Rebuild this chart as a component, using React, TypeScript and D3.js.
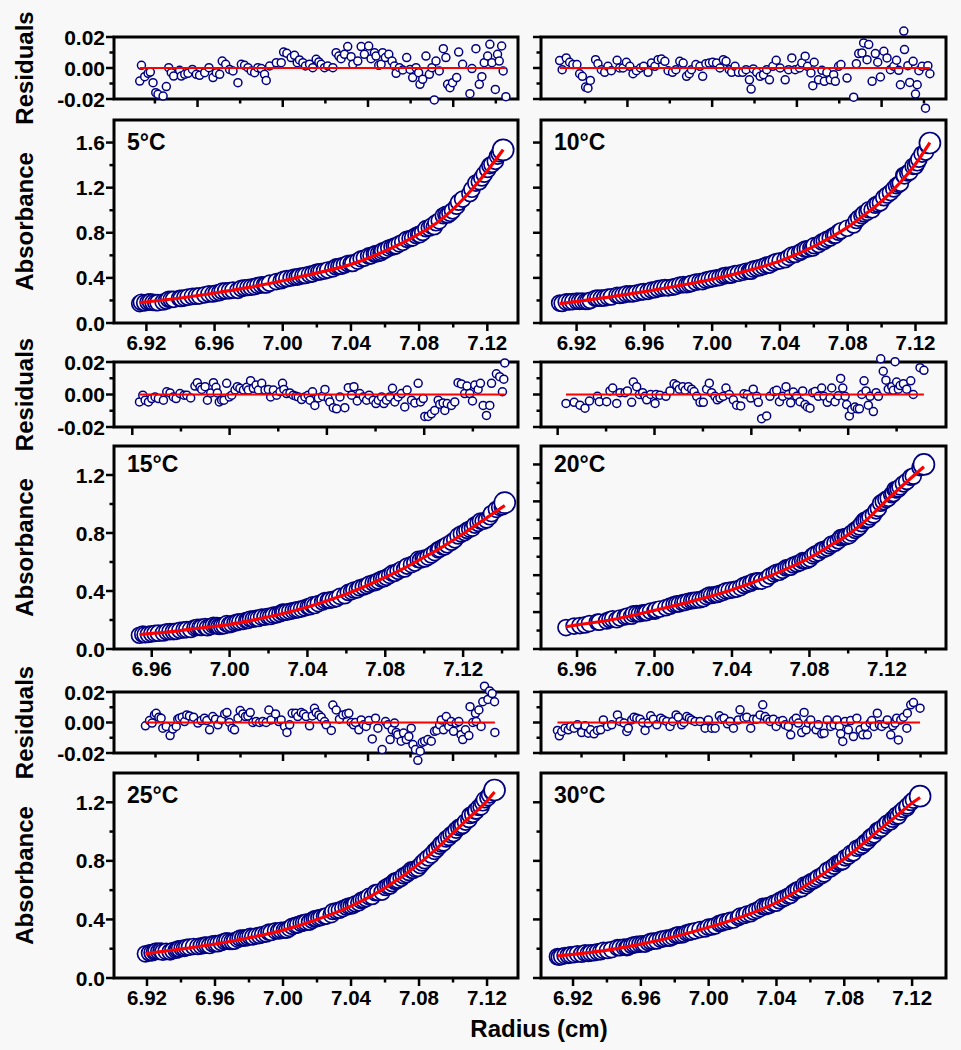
import React from 'react';
import * as d3 from 'd3';

type Pt = [number, number];

// ---------- residuals [radius (cm), residual] ----------
const resid5: Pt[] = [
[6.9161,-0.0084],[6.9171,0.0017],[6.919,-0.0056],[6.921,-0.0034],[6.9223,-0.0026],[6.9239,-0.0095],[6.9255,-0.0159],[6.9268,-0.017],[6.9298,-0.0181],[6.9317,-0.012],
[6.9331,0.0002],[6.9346,-0.003],[6.936,-0.0052],[6.9395,-0.0015],[6.9405,-0.0052],[6.9425,-0.0041],[6.9444,-0.0034],[6.947,-0.0009],[6.9493,-0.0041],[6.9512,-0.0047],
[6.9542,-0.003],[6.9567,0.0002],[6.9591,-0.0062],[6.961,-0.003],[6.963,-0.0041],[6.9645,0.0045],[6.9665,0.0024],[6.9688,-0.0009],[6.9708,-0.0019],[6.9737,-0.0095],
[6.9757,0.0024],[6.9776,0.0017],[6.9796,0.0002],[6.9815,-0.0019],[6.9835,-0.003],[6.9854,0.0002],[6.9874,-0.0004],[6.9893,-0.0041],[6.9903,-0.008],[6.9923,0.0013],
[6.9962,0.0034],[6.9991,0.0034],[7.0005,0.0103],[7.0024,0.0095],[7.0049,0.0067],[7.0069,0.0082],[7.0085,0.0034],[7.0098,0.0052],[7.0118,0.0034],[7.0133,0.0013],
[7.0157,0.0024],[7.0176,0.0002],[7.0196,0.0056],[7.0212,0.0039],[7.0225,0.0024],[7.0245,0.0002],[7.0264,0.0013],[7.0294,0.0002],[7.0313,0.0099],[7.0329,0.0077],
[7.0342,0.006],[7.0362,0.0088],[7.0381,0.0138],[7.0401,0.0073],[7.0411,0.0024],[7.044,0.0045],[7.046,0.0138],[7.0479,0.0088],[7.0504,0.0142],[7.0518,0.006],
[7.0538,0.0099],[7.0547,0.0077],[7.0563,0.0017],[7.0577,0.0024],[7.0586,0.0099],[7.0602,0.0067],[7.0622,0.0088],[7.0641,0.0045],[7.0655,0.0013],[7.0665,-0.0034],
[7.0684,0.0002],[7.0704,-0.0013],[7.0727,0.0067],[7.0747,-0.0009],[7.0762,-0.0062],[7.0782,0.0002],[7.0797,-0.003],[7.0805,-0.0105],[7.0821,-0.0073],[7.084,0.0077],
[7.086,-0.0041],[7.0875,0.0002],[7.0889,-0.0206],[7.0899,0.0045],[7.0918,-0.0019],[7.0942,0.0125],[7.0957,0.0067],[7.0967,-0.0105],[7.0981,-0.0127],[7.0996,-0.0095],
[7.102,-0.0062],[7.1032,0.0103],[7.1055,0.0024],[7.1098,-0.0166],[7.111,-0.0004],[7.1133,0.0125],[7.1153,-0.0105],[7.1168,-0.0056],[7.1182,0.0034],[7.1202,0.0077],
[7.1215,0.0153],[7.1227,0.0034],[7.1247,-0.0138],[7.126,0.0088],[7.127,0.0045],[7.1284,0.0142],[7.1293,-0.0019],[7.1309,-0.0185]];

const resid10: Pt[] = [
[6.910,0.0048],[6.9115,-0.0011],[6.9139,0.0065],[6.9159,0.0037],[6.9178,0.0022],[6.9202,0.0022],[6.9218,-0.0037],[6.9234,-0.0054],[6.9253,-0.0123],[6.9267,-0.013],
[6.9281,-0.008],[6.9312,0.0054],[6.9326,0.0028],[6.9346,-0.0011],[6.9366,-0.0028],[6.9385,0.0011],[6.9405,-0.0017],[6.9439,0.005],[6.9454,0],[6.9474,0],
[6.9494,0.0037],[6.9514,0.0011],[6.9533,-0.0037],[6.9553,-0.0017],[6.9577,0],[6.9596,0.0011],[6.9622,-0.0028],[6.9642,0.0032],[6.9662,0.0011],[6.9681,0.0054],
[6.9701,0.0058],[6.9721,0.0043],[6.974,-0.0017],[6.9766,-0.0028],[6.9786,-0.0011],[6.9809,0.0043],[6.9829,0.0032],[6.9849,-0.0054],[6.9865,-0.0037],[6.9878,-0.0011],
[6.9904,0.0022],[6.9928,0.0011],[6.9944,-0.0054],[6.9963,0.0028],[6.9983,0.0032],[7.0003,0.0037],[7.0026,0.0032],[7.0046,0],[7.0066,0.0054],[7.0082,0.0043],
[7.0101,-0.0011],[7.0115,-0.0028],[7.0135,0.0011],[7.0155,-0.0028],[7.018,-0.0028],[7.02,-0.0011],[7.022,-0.0076],[7.023,-0.0136],[7.0243,-0.0006],[7.0263,-0.0028],
[7.0283,-0.0054],[7.0303,-0.0043],[7.0322,-0.0011],[7.0338,-0.0076],[7.0358,0.0011],[7.0378,0.005],[7.0401,0],[7.0431,-0.0076],[7.0451,-0.0011],[7.047,0.0065],
[7.049,-0.0011],[7.0516,0],[7.0529,0.0032],[7.0549,0.0076],[7.0563,0.0011],[7.0583,-0.0032],[7.0594,-0.0114],[7.0602,0.0037],[7.0628,-0.0076],[7.0648,-0.0015],
[7.0662,-0.0086],[7.0677,-0.0028],[7.0697,-0.0076],[7.0717,-0.0043],[7.0727,-0.0086],[7.0746,0.0011],[7.076,0.0022],[7.0796,-0.0065],[7.0835,-0.0188],[7.0851,0.0028],
[7.0865,0.0093],[7.0884,0.0097],[7.0894,0.0162],[7.0914,0.0054],[7.0924,0.0151],[7.0944,-0.0086],[7.0963,0.0093],[7.0977,0.0037],[7.0993,-0.0058],[7.1013,0.0108],
[7.1032,0.0065],[7.1052,-0.0011],[7.1072,0.0011],[7.1088,0.005],[7.1101,-0.0015],[7.1111,-0.0108],[7.1131,0.0238],[7.1135,0.0119],[7.1155,0.0015],[7.1166,-0.0093],
[7.1186,0.0043],[7.12,-0.0168],[7.121,-0.0108],[7.122,-0.0017],[7.1239,0.0011],[7.1259,-0.0259],[7.1273,0.0015],[7.1285,-0.0037]];

const resid15: Pt[] = [
[6.9537,-0.0046],[6.9554,-0.0004],[6.9566,-0.0035],[6.9583,-0.0046],[6.96,-0.0025],[6.9617,-0.0015],[6.9634,-0.0025],[6.966,-0.0035],[6.9677,0.0017],[6.9694,0.001],
[6.9711,-0.0015],[6.9725,-0.0025],[6.9745,0.0006],[6.9766,-0.0004],[6.978,-0.0004],[6.98,-0.0021],[6.9822,0.0052],[6.9834,0.0073],[6.9848,0.0044],[6.9857,0.0031],
[6.9874,0.0048],[6.9886,-0.0035],[6.9903,0.001],[6.9917,0.0073],[6.993,0.0044],[6.9937,0.001],[6.9947,-0.0046],[6.9959,-0.0035],[6.9971,-0.0035],[6.9985,0.0069],
[6.9999,-0.0015],[7.0011,-0.0004],[7.0028,0.0027],[7.004,0.0048],[7.0053,0.0038],[7.0071,0.0027],[7.0088,0.0044],[7.0096,0.0027],[7.0108,0.0085],[7.0122,0.0038],
[7.0136,0.0058],[7.0148,0.0027],[7.0165,0.0069],[7.0182,0.0027],[7.0199,0.0031],[7.0211,-0.0015],[7.0225,0.0027],[7.0242,-0.0004],[7.0259,0.0017],[7.0272,0.0069],
[7.0279,0.0031],[7.0293,0.0006],[7.031,0.001],[7.0327,-0.0004],[7.0341,-0.001],[7.0353,-0.0015],[7.037,-0.0031],[7.0387,-0.0015],[7.0404,-0.0004],[7.0413,-0.0035],
[7.0426,0.0017],[7.0438,-0.0067],[7.0456,-0.0021],[7.0478,-0.001],[7.049,0.0031],[7.0507,-0.0025],[7.0515,-0.0046],[7.0533,-0.0081],[7.055,-0.0088],[7.0567,-0.0015],
[7.0592,-0.0081],[7.061,0.0042],[7.0627,-0.0004],[7.0639,0.0048],[7.0656,-0.004],[7.0669,0.0006],[7.0687,-0.0015],[7.0704,-0.0035],[7.0717,-0.0004],[7.0738,-0.0035],
[7.0752,-0.0056],[7.0764,-0.0035],[7.0781,-0.0015],[7.0793,-0.0056],[7.0806,-0.0035],[7.0823,-0.0015],[7.0837,0.0038],[7.0849,-0.0046],[7.0866,-0.0015],[7.0883,0.0006],
[7.09,-0.0077],[7.0912,0.0027],[7.0935,-0.0035],[7.0952,-0.0052],[7.0969,0.0069],[7.0981,-0.0046],[7.0995,-0.0025],[7.1003,-0.0135],[7.102,-0.0135],[7.1037,-0.0119],
[7.1054,-0.0098],[7.1072,-0.0035],[7.108,-0.006],[7.1097,-0.0052],[7.1106,-0.0098],[7.1118,-0.0056],[7.114,-0.0067],[7.1157,-0.0046],[7.1174,0.0073],[7.1191,0.0065],
[7.1208,0.0006],[7.122,0.0052],[7.1234,0.0006],[7.1248,-0.004],[7.126,0.0058],[7.1277,0.0031],[7.1289,0.0069],[7.1303,-0.0067],[7.132,-0.0129],[7.1337,-0.0067],
[7.1346,0.0069],[7.1371,0.0127],[7.1388,0.011],[7.1402,0.0017],[7.1409,0.0094],[7.1414,0.0194]];

const resid20: Pt[] = [
[6.9543,-0.0055],[6.9585,-0.0048],[6.9615,-0.0066],[6.9641,-0.0084],[6.9664,-0.004],[6.9705,-0.0011],[6.9715,-0.0044],[6.9753,-0.0044],[6.977,0.0022],[6.9784,0.004],
[6.9805,-0.0055],[6.9822,0.0011],[6.9848,0.0011],[6.986,0.0022],[6.9882,-0.0048],[6.9891,0.0077],[6.9908,0.0048],[6.9922,0],[6.9939,0.0011],[6.9951,-0.0011],
[6.996,-0.0033],[6.998,0],[7.0003,-0.0055],[7.0008,0],[7.0028,-0.0004],[7.0059,-0.0011],[7.008,0.0022],[7.0101,0.0066],[7.0115,0.0055],[7.0128,0.0033],
[7.0146,0.0048],[7.0158,0.0026],[7.0175,0.0048],[7.0192,0.0033],[7.0204,0.0018],[7.0218,-0.0011],[7.0235,-0.0048],[7.0252,-0.0048],[7.0269,0.0033],[7.0283,0.007],
[7.0295,0.0011],[7.0312,-0.0011],[7.0324,-0.0033],[7.0338,-0.0022],[7.0355,-0.0011],[7.0369,0.004],[7.0386,0],[7.0407,-0.0033],[7.0424,-0.0066],[7.0445,-0.007],
[7.0462,0.0004],[7.0479,0],[7.0497,-0.0022],[7.051,0.0033],[7.0528,-0.0011],[7.0536,-0.0048],[7.0553,-0.0149],[7.0579,-0.0132],[7.0596,-0.0011],[7.0617,0.0018],
[7.0631,0.0026],[7.0645,-0.0044],[7.0662,-0.0011],[7.0679,0.0048],[7.0691,0],[7.0703,-0.0051],[7.0717,0.0015],[7.0734,-0.0011],[7.0751,-0.0044],[7.0765,0.0022],
[7.0777,-0.0062],[7.0789,-0.0077],[7.0803,-0.0084],[7.0817,0.0011],[7.0829,0.0018],[7.0846,-0.0011],[7.0863,0.004],[7.0875,-0.0011],[7.0892,-0.0048],[7.0906,-0.0022],
[7.0915,0.004],[7.0932,-0.0044],[7.0949,-0.0007],[7.0961,0.0099],[7.0972,0.004],[7.0984,-0.0011],[7.0992,-0.0062],[7.1006,-0.0132],[7.1018,-0.0092],[7.1035,-0.0077],
[7.1047,-0.0088],[7.1058,-0.0088],[7.107,0],[7.1082,0.0084],[7.1092,0.0022],[7.1104,-0.0066],[7.1113,-0.0011],[7.113,-0.0105],[7.1144,0.0011],[7.1156,-0.0011],
[7.1168,0.022],[7.1181,0.0143],[7.1195,0.0088],[7.1207,0.0033],[7.1225,0.0048],[7.1233,0.0026],[7.1242,0.0202],[7.125,0.0077],[7.1259,0.0033],[7.1268,0.0055],
[7.1285,0.0066],[7.1302,0.0033],[7.1323,0.0084],[7.1336,0],[7.1371,0.0165],[7.1391,0.0149]];

const resid25: Pt[] = [
[6.9191,-0.0022],[6.9215,0.0013],[6.923,-0.0004],[6.9244,0.005],[6.9254,0.006],[6.927,0.0035],[6.9283,0.0028],[6.9293,-0.0037],[6.9313,-0.0026],[6.9336,-0.0086],
[6.9352,-0.0043],[6.9372,-0.0026],[6.9381,0.0022],[6.9391,0.0028],[6.9407,0.0035],[6.9421,0.0006],[6.9434,0.005],[6.945,0.0043],[6.9474,0.0035],[6.9499,-0.0004],
[6.9519,0.0013],[6.9538,0.0028],[6.9552,0.0013],[6.9568,-0.0048],[6.9587,0.0039],[6.9603,0.0022],[6.9617,-0.0015],[6.9637,0.0017],[6.9657,0.0056],[6.967,0.0065],
[6.9685,0],[6.9701,-0.0037],[6.9715,-0.0048],[6.9735,0.0028],[6.9748,0.0078],[6.9764,0.0056],[6.9779,0.0039],[6.9793,0.0043],[6.9807,0.0065],[6.9822,0],
[6.9842,0.0006],[6.9862,0],[6.9881,0.0006],[6.9901,0],[6.9917,0.0082],[6.993,0.0017],[6.9956,0.0056],[6.9975,0.0006],[6.9989,0.0017],[7.0009,-0.0026],
[7.0023,-0.0065],[7.0039,-0.0015],[7.0054,0.006],[7.0074,0.006],[7.0087,0.0039],[7.0107,0.0065],[7.0121,0.0056],[7.0136,0.0039],[7.0156,-0.0022],[7.0172,0.0043],
[7.0185,0.0093],[7.0195,0.0065],[7.0211,0.005],[7.0225,0.0035],[7.0244,0.0006],[7.0254,-0.0015],[7.0284,-0.0052],[7.0293,0.0114],[7.0313,0.0082],[7.0332,0.0022],
[7.0352,0.005],[7.0372,0.0056],[7.0387,0.006],[7.0401,0],[7.0415,-0.0015],[7.0426,0],[7.0446,-0.0048],[7.046,0.0017],[7.0474,-0.0015],[7.0489,-0.0026],
[7.0505,0.0013],[7.0525,-0.0108],[7.0544,0.0028],[7.0558,-0.0037],[7.0583,-0.0177],[7.0603,0.0006],[7.0617,-0.0015],[7.063,-0.0112],[7.0642,-0.0048],[7.0656,-0.0004],
[7.0666,-0.0065],[7.0675,-0.008],[7.0695,-0.0123],[7.0709,-0.0069],[7.0725,-0.0112],[7.074,-0.0091],[7.0754,-0.0037],[7.0764,-0.0145],[7.0779,-0.0177],[7.0793,-0.0248],
[7.0807,-0.0188],[7.0819,-0.013],[7.0833,-0.0123],[7.0852,-0.0112],[7.0872,-0.0123],[7.0891,-0.0058],[7.0905,-0.0052],[7.0921,-0.0015],[7.0931,0.0017],[7.0944,-0.0048],
[7.096,0.0039],[7.0975,-0.0026],[7.0989,0.0006],[7.1003,-0.0058],[7.1018,-0.0004],[7.1034,0.0006],[7.1047,-0.008],[7.1057,-0.0112],[7.1073,-0.0048],[7.1093,-0.0086],
[7.11,0.0104],[7.1116,0],[7.1132,0.006],[7.1136,0.0006],[7.1152,0.0082],[7.1165,-0.0026],[7.1175,0.0136],[7.1185,0.0238],[7.1205,0.0151],[7.1215,0.0207],
[7.123,0.019],[7.1244,0.0136],[7.1246,-0.0065]];

const resid30: Pt[] = [
[6.9108,-0.0052],[6.9119,-0.0087],[6.9133,-0.0059],[6.9153,-0.0037],[6.9172,-0.0048],[6.9186,-0.0026],[6.9206,-0.0037],[6.9226,-0.0015],[6.9251,-0.0066],[6.9271,-0.0022],
[6.929,-0.007],[6.9304,-0.0048],[6.9324,-0.0074],[6.9344,-0.0052],[6.9363,-0.0048],[6.9379,0.0017],[6.9403,-0.0026],[6.9428,-0.0015],[6.9462,0.005],[6.9477,0.0007],
[6.9501,-0.0004],[6.9517,-0.0059],[6.9526,-0.0037],[6.9546,0.0017],[6.956,0.0035],[6.9576,0.0028],[6.9595,0.0022],[6.9611,0],[6.9625,-0.0052],[6.9644,-0.0004],
[6.9658,0.0044],[6.9674,0.0022],[6.9694,-0.0015],[6.9717,0.0028],[6.9733,0.0017],[6.9753,0.0007],[6.9772,-0.0026],[6.9788,0.0007],[6.9808,0.005],[6.9821,0.0035],
[6.9841,-0.0015],[6.9855,0],[6.9871,0.0039],[6.9886,0.0028],[6.99,0.0017],[6.992,0.0007],[6.9949,0.0007],[6.9979,-0.0037],[6.9998,0.0017],[7.0018,-0.0037],
[7.0038,-0.0037],[7.0063,0.0044],[7.0077,0.0022],[7.0091,0.0028],[7.0111,-0.0009],[7.0126,0.0007],[7.0146,-0.0037],[7.0175,0.0017],[7.0185,0.0083],[7.0209,0.0028],
[7.0225,0.0035],[7.0248,-0.0037],[7.0264,0.0022],[7.0284,0.0022],[7.0303,0.005],[7.0319,0.0116],[7.0333,0.0039],[7.0347,0.0022],[7.0362,0.0007],[7.0382,0.0022],
[7.0398,-0.0026],[7.0417,0.0007],[7.0437,0.0013],[7.0451,-0.0015],[7.047,-0.0026],[7.0484,-0.0081],[7.05,0.0013],[7.0516,0.0028],[7.0529,-0.0004],[7.0549,-0.0066],
[7.0563,0.0066],[7.0575,-0.0048],[7.0588,-0.0004],[7.0602,0.0017],[7.0618,-0.0026],[7.0634,-0.0048],[7.0647,-0.0015],[7.0667,-0.0074],[7.0681,-0.007],[7.07,0.0017],
[7.072,-0.0026],[7.074,-0.0015],[7.0756,0.0017],[7.0771,-0.0026],[7.0779,-0.0074],[7.0791,-0.0124],[7.0805,0.0007],[7.0824,-0.0048],[7.0838,0.0013],[7.0854,-0.0092],
[7.0874,0.0028],[7.0893,-0.0048],[7.0909,-0.0081],[7.0923,-0.0026],[7.0936,-0.0081],[7.0952,-0.0004],[7.0962,0.0013],[7.0976,-0.0026],[7.0995,0.0061],[7.1007,-0.0015],
[7.1021,-0.0026],[7.1041,-0.0009],[7.1054,0.0017],[7.1074,-0.0081],[7.1086,-0.0022],[7.11,-0.0004],[7.1109,0.0028],[7.1119,-0.0114],[7.1133,0.0017],[7.1149,0.0035],
[7.1169,-0.0037],[7.1172,0.0061],[7.1192,0.0116],[7.1208,0.0131],[7.1247,0.0094]];

// ---------- absorbance data [radius (cm), absorbance] (drawn in radius order) ----------
const absorb5: Pt[] = [
[6.9161,0.172],[6.919,0.179],[6.9223,0.188],[6.9255,0.181],[6.9298,0.186],[6.9331,0.21],[6.936,0.21],[6.9405,0.218],[6.9444,0.229],[6.9493,0.238],
[6.9542,0.25],[6.9591,0.258],[6.963,0.27],[6.9665,0.284],[6.9708,0.291],[6.9757,0.307],[6.9796,0.315],[6.9835,0.323],[6.9874,0.338],[6.9903,0.338],
[6.9962,0.367],[7.0005,0.387],[7.0049,0.399],[7.0085,0.407],[7.0118,0.419],[7.0157,0.431],[7.0196,0.449],[7.0225,0.456],[7.0264,0.47],[7.0313,0.497],
[7.0342,0.504],[7.0381,0.527],[7.0411,0.528],[7.046,0.569],[7.0504,0.595],[7.0538,0.611],[7.0563,0.618],[7.0586,0.64],[7.0622,0.664],[7.0655,0.681],
[7.0684,0.702],[7.0727,0.742],[7.0762,0.755],[7.0797,0.785],[7.0821,0.803],[7.086,0.843],[7.0889,0.854],[7.0918,0.906],[7.0957,0.963],[7.0981,0.973],
[7.102,1.036],[7.1055,1.099],[7.111,1.186],[7.1153,1.253],[7.1182,1.32],[7.1215,1.396],[7.1247,1.434],[7.127,1.501],[7.1293,1.535],
[6.9171,0.184],[6.921,0.185],[6.9239,0.183],[6.9268,0.181],[6.9317,0.195],[6.9346,0.209],[6.9395,0.219],[6.9425,0.223],[6.947,0.236],[6.9512,0.241],
[6.9567,0.258],[6.961,0.265],[6.9645,0.282],[6.9688,0.287],[6.9737,0.29],[6.9776,0.312],[6.9815,0.318],[6.9854,0.332],[6.9893,0.339],[6.9923,0.353],
[6.9991,0.375],[7.0024,0.393],[7.0069,0.407],[7.0098,0.414],[7.0133,0.422],[7.0176,0.436],[7.0212,0.453],[7.0245,0.461],[7.0294,0.48],[7.0329,0.501],
[7.0362,0.514],[7.0401,0.528],[7.044,0.549],[7.0479,0.576],[7.0518,0.596],[7.0547,0.615],[7.0577,0.626],[7.0602,0.647],[7.0641,0.674],[7.0665,0.684],
[7.0704,0.716],[7.0747,0.749],[7.0782,0.776],[7.0805,0.784],[7.084,0.836],[7.0875,0.861],[7.0899,0.889],[7.0942,0.951],[7.0967,0.958],[7.0996,0.995],
[7.1032,1.071],[7.1098,1.148],[7.1133,1.241],[7.1168,1.286],[7.1202,1.362],[7.1227,1.407],[7.126,1.48],[7.1284,1.533]];

const absorb10: Pt[] = [
[6.910,0.177],[6.9139,0.187],[6.9178,0.19],[6.9218,0.192],[6.9253,0.191],[6.9281,0.2],[6.9326,0.22],[6.9366,0.222],[6.9405,0.231],[6.9454,0.244],
[6.9494,0.258],[6.9533,0.259],[6.9577,0.273],[6.9622,0.281],[6.9662,0.295],[6.9701,0.31],[6.974,0.312],[6.9786,0.325],[6.9829,0.341],[6.9865,0.345],
[6.9904,0.362],[6.9944,0.367],[6.9983,0.386],[7.0026,0.4],[7.0066,0.417],[7.0101,0.423],[7.0135,0.438],[7.018,0.45],[7.022,0.461],[7.0243,0.478],
[7.0283,0.492],[7.0322,0.513],[7.0358,0.532],[7.0401,0.551],[7.0451,0.582],[7.049,0.608],[7.0529,0.637],[7.0563,0.657],[7.0594,0.665],[7.0628,0.696],
[7.0662,0.724],[7.0697,0.754],[7.0727,0.779],[7.076,0.818],[7.0835,0.87],[7.0865,0.93],[7.0894,0.969],[7.0924,1.004],[7.0963,1.045],[7.0993,1.066],
[7.1032,1.135],[7.1072,1.189],[7.1101,1.23],[7.1131,1.31],[7.1155,1.331],[7.1186,1.389],[7.121,1.421],[7.1239,1.498],[7.1273,1.575],[7.1285,1.596],
[6.9115,0.174],[6.9159,0.188],[6.9202,0.194],[6.9234,0.194],[6.9267,0.192],[6.9312,0.219],[6.9346,0.22],[6.9385,0.23],[6.9439,0.246],[6.9474,0.249],
[6.9514,0.259],[6.9553,0.265],[6.9596,0.278],[6.9642,0.292],[6.9681,0.304],[6.9721,0.313],[6.9766,0.318],[6.9809,0.337],[6.9849,0.339],[6.9878,0.351],
[6.9928,0.368],[6.9963,0.38],[7.0003,0.393],[7.0046,0.405],[7.0082,0.422],[7.0115,0.426],[7.0155,0.441],[7.02,0.459],[7.023,0.46],[7.0263,0.485],
[7.0303,0.502],[7.0338,0.514],[7.0378,0.545],[7.0431,0.562],[7.047,0.603],[7.0516,0.625],[7.0549,0.655],[7.0583,0.666],[7.0602,0.686],[7.0648,0.719],
[7.0677,0.742],[7.0717,0.775],[7.0746,0.805],[7.0796,0.84],[7.0851,0.909],[7.0884,0.952],[7.0914,0.982],[7.0944,1.004],[7.0977,1.056],[7.1013,1.111],
[7.1052,1.157],[7.1088,1.217],[7.1111,1.239],[7.1135,1.305],[7.1166,1.34],[7.12,1.393],[7.122,1.453],[7.1259,1.516]];

const absorb15: Pt[] = [
[6.9537,0.095],[6.9566,0.099],[6.96,0.105],[6.9634,0.109],[6.9677,0.119],[6.9711,0.12],[6.9745,0.129],[6.978,0.134],[6.9822,0.146],[6.9848,0.149],
[6.9874,0.154],[6.9903,0.155],[6.993,0.162],[6.9947,0.156],[6.9971,0.161],[6.9999,0.168],[7.0028,0.18],[7.0053,0.188],[7.0088,0.197],[7.0108,0.207],
[7.0136,0.211],[7.0165,0.22],[7.0199,0.225],[7.0225,0.233],[7.0259,0.244],[7.0279,0.252],[7.031,0.26],[7.0341,0.269],[7.037,0.277],[7.0404,0.292],
[7.0426,0.304],[7.0456,0.313],[7.049,0.334],[7.0515,0.337],[7.055,0.348],[7.0592,0.368],[7.0627,0.396],[7.0656,0.408],[7.0687,0.428],[7.0717,0.447],
[7.0752,0.461],[7.0781,0.482],[7.0806,0.495],[7.0837,0.523],[7.0866,0.536],[7.09,0.552],[7.0935,0.582],[7.0969,0.618],[7.0995,0.626],[7.102,0.634],
[7.1054,0.665],[7.108,0.689],[7.1106,0.705],[7.114,0.737],[7.1174,0.78],[7.1208,0.803],[7.1234,0.827],[7.126,0.855],[7.1289,0.882],[7.132,0.89],
[7.1346,0.934],[7.1388,0.977],[7.1414,1.009],
[6.9554,0.102],[6.9583,0.101],[6.9617,0.108],[6.966,0.111],[6.9694,0.12],[6.9725,0.122],[6.9766,0.132],[6.98,0.135],[6.9834,0.15],[6.9857,0.149],
[6.9886,0.147],[6.9917,0.163],[6.9937,0.161],[6.9959,0.159],[6.9985,0.175],[7.0011,0.173],[7.004,0.185],[7.0071,0.191],[7.0096,0.198],[7.0122,0.206],
[7.0148,0.211],[7.0182,0.22],[7.0211,0.224],[7.0242,0.236],[7.0272,0.254],[7.0293,0.255],[7.0327,0.265],[7.0353,0.272],[7.0387,0.284],[7.0413,0.292],
[7.0438,0.3],[7.0478,0.324],[7.0507,0.335],[7.0533,0.342],[7.0567,0.363],[7.061,0.39],[7.0639,0.407],[7.0669,0.421],[7.0704,0.436],[7.0738,0.456],
[7.0764,0.47],[7.0793,0.485],[7.0823,0.508],[7.0849,0.522],[7.0883,0.55],[7.0912,0.572],[7.0952,0.593],[7.0981,0.614],[7.1003,0.621],[7.1037,0.649],
[7.1072,0.684],[7.1097,0.703],[7.1118,0.719],[7.1157,0.753],[7.1191,0.794],[7.122,0.818],[7.1248,0.834],[7.1277,0.867],[7.1303,0.881],[7.1337,0.912],
[7.1371,0.963],[7.1402,0.981]];

const absorb20: Pt[] = [
[6.9543,0.145],[6.9615,0.159],[6.9664,0.172],[6.9715,0.182],[6.977,0.199],[6.9805,0.198],[6.9848,0.218],[6.9882,0.222],[6.9908,0.24],[6.9939,0.245],
[6.996,0.247],[7.0003,0.257],[7.0028,0.271],[7.008,0.29],[7.0115,0.305],[7.0146,0.314],[7.0175,0.323],[7.0204,0.33],[7.0235,0.334],[7.0269,0.355],
[7.0295,0.363],[7.0324,0.37],[7.0355,0.384],[7.0386,0.397],[7.0424,0.406],[7.0462,0.431],[7.0497,0.446],[7.0528,0.462],[7.0553,0.46],[7.0596,0.494],
[7.0631,0.519],[7.0662,0.533],[7.0691,0.552],[7.0717,0.569],[7.0751,0.584],[7.0777,0.597],[7.0803,0.611],[7.0829,0.642],[7.0863,0.67],[7.0892,0.684],
[7.0915,0.711],[7.0949,0.733],[7.0972,0.757],[7.0992,0.763],[7.1018,0.785],[7.1047,0.815],[7.107,0.849],[7.1092,0.874],[7.1113,0.894],[7.1144,0.936],
[7.1168,0.988],[7.1195,1.013],[7.1225,1.045],[7.1242,1.08],[7.1259,1.084],[7.1285,1.119],[7.1323,1.164],[7.1371,1.229],[7.1391,1.25],
[6.9585,0.155],[6.9641,0.163],[6.9705,0.183],[6.9753,0.19],[6.9784,0.204],[6.9822,0.21],[6.986,0.223],[6.9891,0.238],[6.9922,0.239],[6.9951,0.247],
[6.998,0.256],[7.0008,0.265],[7.0059,0.28],[7.0101,0.301],[7.0128,0.306],[7.0158,0.316],[7.0192,0.327],[7.0218,0.332],[7.0252,0.341],[7.0283,0.365],
[7.0312,0.368],[7.0338,0.377],[7.0369,0.394],[7.0407,0.402],[7.0445,0.416],[7.0479,0.439],[7.051,0.457],[7.0536,0.462],[7.0579,0.474],[7.0617,0.509],
[7.0645,0.52],[7.0679,0.549],[7.0703,0.554],[7.0734,0.576],[7.0765,0.598],[7.0789,0.602],[7.0817,0.631],[7.0846,0.652],[7.0875,0.675],[7.0906,0.698],
[7.0932,0.717],[7.0961,0.754],[7.0984,0.761],[7.1006,0.768],[7.1035,0.804],[7.1058,0.827],[7.1082,0.869],[7.1104,0.878],[7.113,0.908],[7.1156,0.952],
[7.1181,0.999],[7.1207,1.021],[7.1233,1.053],[7.125,1.078],[7.1268,1.098],[7.1302,1.135],[7.1336,1.171]];

const absorb25: Pt[] = [
[6.9191,0.165],[6.923,0.173],[6.9254,0.183],[6.9283,0.184],[6.9313,0.182],[6.9352,0.187],[6.9381,0.197],[6.9407,0.203],[6.9434,0.209],[6.9474,0.215],
[6.9519,0.219],[6.9552,0.225],[6.9587,0.234],[6.9617,0.234],[6.9657,0.25],[6.9685,0.25],[6.9715,0.252],[6.9748,0.272],[6.9779,0.274],[6.9807,0.284],
[6.9842,0.287],[6.9881,0.297],[6.9917,0.313],[6.9956,0.322],[6.9989,0.326],[7.0023,0.328],[7.0054,0.353],[7.0087,0.363],[7.0121,0.377],[7.0156,0.382],
[7.0185,0.404],[7.0211,0.41],[7.0244,0.421],[7.0284,0.433],[7.0313,0.459],[7.0352,0.474],[7.0387,0.491],[7.0415,0.498],[7.0446,0.514],[7.0474,0.535],
[7.0505,0.557],[7.0544,0.583],[7.0583,0.587],[7.0617,0.627],[7.0642,0.645],[7.0666,0.662],[7.0695,0.681],[7.0725,0.707],[7.0754,0.738],[7.0779,0.745],
[7.0807,0.768],[7.0833,0.801],[7.0872,0.84],[7.0905,0.881],[7.0931,0.916],[7.096,0.95],[7.0989,0.979],[7.1018,1.01],[7.1047,1.034],[7.1073,1.065],
[7.11,1.11],[7.1132,1.141],[7.1152,1.165],[7.1175,1.197],[7.1205,1.232],[7.123,1.27],[7.1244,1.284],
[6.9215,0.171],[6.9244,0.179],[6.927,0.182],[6.9293,0.177],[6.9336,0.179],[6.9372,0.19],[6.9391,0.199],[6.9421,0.203],[6.945,0.211],[6.9499,0.215],
[6.9538,0.224],[6.9568,0.222],[6.9603,0.235],[6.9637,0.242],[6.967,0.254],[6.9701,0.25],[6.9735,0.264],[6.9764,0.273],[6.9793,0.278],[6.9822,0.281],
[6.9862,0.291],[6.9901,0.301],[6.993,0.311],[6.9975,0.321],[7.0009,0.327],[7.0039,0.339],[7.0074,0.36],[7.0107,0.373],[7.0136,0.381],[7.0172,0.394],
[7.0195,0.405],[7.0225,0.415],[7.0254,0.423],[7.0293,0.454],[7.0332,0.463],[7.0372,0.485],[7.0401,0.492],[7.0426,0.507],[7.046,0.53],[7.0489,0.543],
[7.0525,0.557],[7.0558,0.585],[7.0603,0.618],[7.063,0.629],[7.0656,0.661],[7.0675,0.669],[7.0709,0.698],[7.074,0.721],[7.0764,0.735],[7.0793,0.749],
[7.0819,0.786],[7.0852,0.821],[7.0891,0.865],[7.0921,0.901],[7.0944,0.923],[7.0975,0.96],[7.1003,0.987],[7.1034,1.028],[7.1057,1.042],[7.1093,1.083],
[7.1116,1.118],[7.1136,1.141],[7.1165,1.169],[7.1185,1.218],[7.1215,1.251]];

const absorb30: Pt[] = [
[6.9108,0.146],[6.9133,0.148],[6.9172,0.155],[6.9206,0.16],[6.9251,0.163],[6.929,0.168],[6.9324,0.173],[6.9363,0.18],[6.9403,0.188],[6.9462,0.208],
[6.9501,0.211],[6.9526,0.212],[6.956,0.227],[6.9595,0.232],[6.9625,0.232],[6.9658,0.25],[6.9694,0.253],[6.9733,0.268],[6.9772,0.273],[6.9808,0.291],
[6.9841,0.294],[6.9871,0.309],[6.99,0.317],[6.9949,0.331],[6.9998,0.347],[7.0038,0.356],[7.0077,0.376],[7.0111,0.386],[7.0146,0.396],[7.0185,0.422],
[7.0225,0.436],[7.0264,0.453],[7.0303,0.474],[7.0333,0.487],[7.0362,0.498],[7.0398,0.511],[7.0437,0.541],[7.047,0.56],[7.05,0.585],[7.0529,0.603],
[7.0563,0.634],[7.0588,0.644],[7.0618,0.664],[7.0647,0.688],[7.0681,0.711],[7.072,0.747],[7.0756,0.781],[7.0779,0.791],[7.0805,0.821],[7.0838,0.851],
[7.0874,0.886],[7.0909,0.907],[7.0936,0.934],[7.0962,0.968],[7.0995,1.006],[7.1021,1.022],[7.1054,1.058],[7.1086,1.085],[7.1109,1.113],[7.1133,1.133],
[7.1169,1.162],[7.1192,1.199],[7.1247,1.242],
[6.9119,0.143],[6.9153,0.153],[6.9186,0.158],[6.9226,0.165],[6.9271,0.171],[6.9304,0.172],[6.9344,0.178],[6.9379,0.189],[6.9428,0.194],[6.9477,0.207],
[6.9517,0.208],[6.9546,0.222],[6.9576,0.229],[6.9611,0.234],[6.9644,0.242],[6.9674,0.252],[6.9717,0.264],[6.9753,0.272],[6.9788,0.281],[6.9821,0.294],
[6.9855,0.3],[6.9886,0.313],[6.992,0.322],[6.9979,0.335],[7.0018,0.349],[7.0063,0.373],[7.0091,0.383],[7.0126,0.394],[7.0175,0.413],[7.0209,0.427],
[7.0248,0.439],[7.0284,0.462],[7.0319,0.489],[7.0347,0.492],[7.0382,0.509],[7.0417,0.528],[7.0451,0.548],[7.0484,0.565],[7.0516,0.598],[7.0549,0.61],
[7.0575,0.63],[7.0602,0.656],[7.0634,0.675],[7.0667,0.7],[7.07,0.736],[7.074,0.764],[7.0771,0.788],[7.0791,0.796],[7.0824,0.832],[7.0854,0.855],
[7.0893,0.895],[7.0923,0.926],[7.0952,0.957],[7.0976,0.978],[7.1007,1.01],[7.1041,1.043],[7.1074,1.067],[7.11,1.1],[7.1119,1.107],[7.1149,1.151],
[7.1172,1.175],[7.1208,1.215]];

// ---------- fitted curves [radius (cm), absorbance] ----------
const fit5: Pt[] = [[6.9161,0.18],[6.94,0.222],[6.96,0.266],[6.98,0.316],[7.0,0.375],[7.02,0.444],[7.04,0.52],[7.06,0.638],[7.08,0.79],[7.09,0.885],[7.1,1.01],[7.11,1.168],[7.12,1.35],[7.1293,1.537]];
const fit10: Pt[] = [[6.910,0.172],[6.94,0.232],[6.96,0.278],[6.98,0.33],[7.0,0.388],[7.02,0.46],[7.04,0.55],[7.06,0.68],[7.08,0.85],[7.09,0.96],[7.1,1.08],[7.11,1.23],[7.12,1.41],[7.1285,1.6]];
const fit15: Pt[] = [[6.9537,0.1],[6.97,0.12],[6.98,0.137],[7.0,0.17],[7.02,0.222],[7.04,0.29],[7.06,0.38],[7.08,0.495],[7.09,0.56],[7.1,0.633],[7.11,0.71],[7.12,0.795],[7.13,0.885],[7.1414,0.99]];
const fit20: Pt[] = [[6.9543,0.151],[6.96,0.163],[6.98,0.203],[7.0,0.262],[7.02,0.326],[7.04,0.402],[7.06,0.497],[7.08,0.617],[7.09,0.695],[7.1,0.775],[7.11,0.88],[7.12,1.01],[7.13,1.13],[7.1391,1.235]];
const fit25: Pt[] = [[6.9191,0.167],[6.94,0.198],[6.96,0.232],[6.98,0.275],[7.0,0.327],[7.02,0.4],[7.04,0.491],[7.06,0.615],[7.08,0.78],[7.09,0.88],[7.1,0.99],[7.11,1.1],[7.12,1.21],[7.1244,1.27]];
const fit30: Pt[] = [[6.9108,0.151],[6.94,0.19],[6.96,0.231],[6.98,0.283],[7.0,0.346],[7.02,0.42],[7.04,0.515],[7.06,0.652],[7.08,0.815],[7.09,0.906],[7.1,1.005],[7.11,1.1],[7.12,1.195],[7.1247,1.233]];

// ---------- panel labels and ticks ----------
const tempLabels = ['5°C', '10°C', '15°C', '20°C', '25°C', '30°C'];
const radiusMajorTicks = [6.92, 6.96, 7.0, 7.04, 7.08, 7.12];
const radiusMinorTicks = [6.94, 6.98, 7.02, 7.06, 7.1, 7.14];
const residRadiusMajorTicks = [6.95, 7.0, 7.05, 7.1];
const residRadiusMinorTicks = [6.925, 6.975, 7.025, 7.075, 7.125];
const residMajorTicks = [-0.02, 0, 0.02];
const residMinorTicks = [-0.01, 0.01];
const absMajorTicksA = [0, 0.4, 0.8, 1.2, 1.6];
const absMinorTicksA = [0.2, 0.6, 1.0, 1.4];
const absMajorTicksB = [0, 0.4, 0.8, 1.2];
const absMinorTicksB = [0.2, 0.6, 1.0];
const absMajorTicksC = [0, 0.25, 0.5, 0.75, 1.0, 1.25];
const absMinorTicksC = [0.125, 0.375, 0.625, 0.875, 1.125];

// ---------- layout ----------
const W = 961, H = 1050;
const FONT = '"Liberation Sans", Arial, Helvetica, sans-serif';
const NAVY = '#000080';
const BG = '#f8f8f8';
const COLS = [{ x0: 114, x1: 518 }, { x0: 541, x1: 946 }];
const ROWS = [
  { r0: 37, r1: 99, a0: 120, a1: 323, labelDy: 30 },
  { r0: 362, r1: 427, a0: 446, a1: 649, labelDy: 26 },
  { r0: 692, r1: 753, a0: 773, a1: 978, labelDy: 30 },
];

const panels = [
  { label: tempLabels[0], col: 0, row: 0, resid: resid5, absorb: absorb5, fit: fit5, xDomain: [6.901, 7.138], yMax: 1.8, yMaj: absMajorTicksA, yMin: absMinorTicksA },
  { label: tempLabels[1], col: 1, row: 0, resid: resid10, absorb: absorb10, fit: fit10, xDomain: [6.899, 7.138], yMax: 1.8, yMaj: absMajorTicksA, yMin: absMinorTicksA },
  { label: tempLabels[2], col: 0, row: 1, resid: resid15, absorb: absorb15, fit: fit15, xDomain: [6.9406, 7.1482], yMax: 1.4, yMaj: absMajorTicksB, yMin: absMinorTicksB },
  { label: tempLabels[3], col: 1, row: 1, resid: resid20, absorb: absorb20, fit: fit20, xDomain: [6.9414, 7.1505], yMax: 1.375, yMaj: absMajorTicksC, yMin: absMinorTicksC },
  { label: tempLabels[4], col: 0, row: 2, resid: resid25, absorb: absorb25, fit: fit25, xDomain: [6.9006, 7.1382], yMax: 1.4, yMaj: absMajorTicksB, yMin: absMinorTicksB },
  { label: tempLabels[5], col: 1, row: 2, resid: resid30, absorb: absorb30, fit: fit30, xDomain: [6.9011, 7.14], yMax: 1.4, yMaj: absMajorTicksB, yMin: absMinorTicksB },
];

const MAJ = 8, MIN = 4.5, TW = 2.5;

function inside(v: number, d: number[]) {
  return v > d[0] + 0.0008 && v < d[1] - 0.0008;
}

function Panel({ p }: { p: any }) {
  const c = COLS[p.col];
  const rw = ROWS[p.row];
  const x = d3.scaleLinear().domain(p.xDomain).range([c.x0, c.x1]);
  const yR = d3.scaleLinear().domain([-0.02, 0.02]).range([rw.r1, rw.r0]);
  const yA = d3.scaleLinear().domain([0, p.yMax]).range([rw.a1, rw.a0]);
  const showY = p.col === 0;
  const fitLine = d3.line<Pt>().x(d => x(d[0])).y(d => yA(d[1])).curve(d3.curveMonotoneX);
  const resid: Pt[] = p.resid;
  const absorb: Pt[] = d3.sort(p.absorb as Pt[], (d: Pt) => d[0]);
  const rFirst = resid[0][0];
  const rLast = resid[resid.length - 1][0];

  return (
    <g>
      {/* residual panel */}
      <rect x={c.x0} y={rw.r0} width={c.x1 - c.x0} height={rw.r1 - rw.r0} fill={BG} stroke="none" />
      {residRadiusMajorTicks.filter(v => inside(v, p.xDomain)).map(v => (
        <line key={'rxM' + v} x1={x(v)} x2={x(v)} y1={rw.r1} y2={rw.r1 + MAJ} stroke="#000" strokeWidth={TW} />
      ))}
      {residRadiusMinorTicks.filter(v => inside(v, p.xDomain)).map(v => (
        <line key={'rxm' + v} x1={x(v)} x2={x(v)} y1={rw.r1} y2={rw.r1 + MIN} stroke="#000" strokeWidth={TW} />
      ))}
      {residMajorTicks.map(v => (
        <g key={'ryM' + v}>
          <line x1={c.x0 - MAJ} x2={c.x0} y1={yR(v)} y2={yR(v)} stroke="#000" strokeWidth={TW} />
          {showY && (
            <text x={c.x0 - 9} y={yR(v)} dy="0.36em" textAnchor="end" fontFamily={FONT} fontWeight="bold" fontSize={21}>
              {v.toFixed(2)}
            </text>
          )}
        </g>
      ))}
      {residMinorTicks.map(v => (
        <line key={'rym' + v} x1={c.x0 - MIN} x2={c.x0} y1={yR(v)} y2={yR(v)} stroke="#000" strokeWidth={TW} />
      ))}
      <rect x={c.x0} y={rw.r0} width={c.x1 - c.x0} height={rw.r1 - rw.r0} fill="none" stroke="#000" strokeWidth={3} />
      {resid.map((d, i) => (
        <circle key={'rp' + i} cx={x(d[0])} cy={yR(d[1])} r={4} fill="#fff" stroke={NAVY} strokeWidth={1.5} />
      ))}
      <line x1={x(rFirst)} x2={x(rLast)} y1={yR(0)} y2={yR(0)} stroke="#ff0000" strokeWidth={2} />

      {/* absorbance panel */}
      <rect x={c.x0} y={rw.a0} width={c.x1 - c.x0} height={rw.a1 - rw.a0} fill={BG} stroke="none" />
      {radiusMajorTicks.filter(v => inside(v, p.xDomain)).map(v => (
        <g key={'axM' + v}>
          <line x1={x(v)} x2={x(v)} y1={rw.a1} y2={rw.a1 + MAJ} stroke="#000" strokeWidth={TW} />
          <text x={x(v)} y={rw.a1 + 27} textAnchor="middle" fontFamily={FONT} fontWeight="bold" fontSize={20.5}>
            {v.toFixed(2)}
          </text>
        </g>
      ))}
      {radiusMinorTicks.filter(v => inside(v, p.xDomain)).map(v => (
        <line key={'axm' + v} x1={x(v)} x2={x(v)} y1={rw.a1} y2={rw.a1 + MIN} stroke="#000" strokeWidth={TW} />
      ))}
      {p.yMaj.map((v: number) => (
        <g key={'ayM' + v}>
          <line x1={c.x0 - MAJ} x2={c.x0} y1={yA(v)} y2={yA(v)} stroke="#000" strokeWidth={TW} />
          {showY && (
            <text x={c.x0 - 9} y={yA(v)} dy="0.36em" textAnchor="end" fontFamily={FONT} fontWeight="bold" fontSize={21}>
              {v.toFixed(1)}
            </text>
          )}
        </g>
      ))}
      {p.yMin.map((v: number) => (
        <line key={'aym' + v} x1={c.x0 - MIN} x2={c.x0} y1={yA(v)} y2={yA(v)} stroke="#000" strokeWidth={TW} />
      ))}
      <rect x={c.x0} y={rw.a0} width={c.x1 - c.x0} height={rw.a1 - rw.a0} fill="none" stroke="#000" strokeWidth={3} />
      {absorb.map((d, i) => (
        <circle key={'ap' + i} cx={x(d[0])} cy={yA(d[1])} r={i === absorb.length - 1 ? 10.5 : 8}
          fill="#fff" stroke={NAVY} strokeWidth={1.7} />
      ))}
      <path d={fitLine(p.fit) || ''} fill="none" stroke="#ff0000" strokeWidth={3.2} />
      <text x={c.x0 + 13} y={rw.a0 + rw.labelDy} fontFamily={FONT} fontWeight="bold" fontSize={23}>
        {p.label}
      </text>
    </g>
  );
}

export default function App() {
  return (
    <svg width={W} height={H} viewBox={`0 0 ${W} ${H}`} style={{ position: 'absolute', left: 0, top: 0, background: BG }}>
      <rect x={0} y={0} width={W} height={H} fill={BG} />
      {panels.map((p, i) => <Panel key={i} p={p} />)}
      {ROWS.map((rw, i) => (
        <g key={'t' + i}>
          <text transform={`translate(33,${(rw.r0 + rw.r1) / 2}) rotate(-90)`} textAnchor="middle"
            fontFamily={FONT} fontWeight="bold" fontSize={24}>Residuals</text>
          <text transform={`translate(33,${(rw.a0 + rw.a1) / 2}) rotate(-90)`} textAnchor="middle"
            fontFamily={FONT} fontWeight="bold" fontSize={24}>Absorbance</text>
        </g>
      ))}
      <text x={539} y={1037} textAnchor="middle" fontFamily={FONT} fontWeight="bold" fontSize={24}>Radius (cm)</text>
    </svg>
  );
}
